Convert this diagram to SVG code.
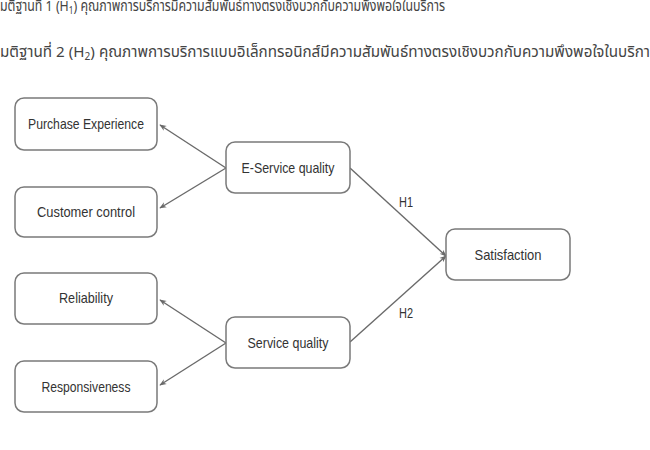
<svg xmlns="http://www.w3.org/2000/svg" width="650" height="450" viewBox="0 0 650 450">
<defs>
<style>
.box{fill:#fff;stroke:#7a7a7a;stroke-width:1.5}
.lbl{font-family:"Liberation Sans Narrow","Liberation Sans",Arial,sans-serif;font-size:15px;fill:#333;text-anchor:middle}
.th{font-family:"Noto Sans Thai","Tahoma","DejaVu Sans","Noto Sans",sans-serif;font-size:15px;fill:#444}
.sub{font-size:10px}
.edge{stroke:#6a6a6a;stroke-width:1.4;fill:none}
</style>
<marker id="ah" viewBox="0 0 10 10" refX="9" refY="5" markerWidth="7" markerHeight="7" orient="auto" markerUnits="userSpaceOnUse">
<path d="M0,1 L10,5 L0,9 L3,5 Z" fill="#6a6a6a"/>
</marker>
</defs>
<rect width="650" height="450" fill="#fff"/>
<text class="th" x="0" y="11" textLength="445" lengthAdjust="spacingAndGlyphs">มติฐานที่ 1 (H<tspan class="sub" baseline-shift="-3">1</tspan>) คุณภาพการบริการมีความสัมพันธ์ทางตรงเชิงบวกกับความพึงพอใจในบริการ</text>
<text class="th" x="0" y="57" textLength="650" lengthAdjust="spacingAndGlyphs">มติฐานที่ 2 (H<tspan class="sub" baseline-shift="-3">2</tspan>) คุณภาพการบริการแบบอิเล็กทรอนิกส์มีความสัมพันธ์ทางตรงเชิงบวกกับความพึงพอใจในบริกา</text>
<g id="connectors">
<line class="edge" x1="226" y1="168" x2="160" y2="125" marker-end="url(#ah)"/>
<line class="edge" x1="226" y1="168" x2="160" y2="208" marker-end="url(#ah)"/>
<line class="edge" x1="226" y1="343" x2="160" y2="300" marker-end="url(#ah)"/>
<line class="edge" x1="226" y1="343" x2="160" y2="385" marker-end="url(#ah)"/>
<line class="edge" x1="350" y1="168" x2="446" y2="256" marker-end="url(#ah)"/>
<line class="edge" x1="350" y1="342" x2="446" y2="256" marker-end="url(#ah)"/>
<text class="lbl" x="406" y="207" textLength="14" lengthAdjust="spacingAndGlyphs">H1</text>
<text class="lbl" x="406" y="318" textLength="14" lengthAdjust="spacingAndGlyphs">H2</text>
</g>
<g id="purchase">
<rect class="box" x="15" y="98" width="142" height="52" rx="9"/>
<text class="lbl" x="86" y="129" textLength="116" lengthAdjust="spacingAndGlyphs">Purchase Experience</text>
</g>
<g id="customer">
<rect class="box" x="15" y="187" width="142" height="50" rx="9"/>
<text class="lbl" x="86" y="217" textLength="98" lengthAdjust="spacingAndGlyphs">Customer control</text>
</g>
<g id="eservice">
<rect class="box" x="226" y="142" width="124" height="51" rx="9"/>
<text class="lbl" x="288" y="173" textLength="93" lengthAdjust="spacingAndGlyphs">E-Service quality</text>
</g>
<g id="reliability">
<rect class="box" x="15" y="273" width="142" height="51" rx="9"/>
<text class="lbl" x="86" y="303" textLength="54" lengthAdjust="spacingAndGlyphs">Reliability</text>
</g>
<g id="responsiveness">
<rect class="box" x="15" y="361" width="142" height="51" rx="9"/>
<text class="lbl" x="86" y="392" textLength="89" lengthAdjust="spacingAndGlyphs">Responsiveness</text>
</g>
<g id="service">
<rect class="box" x="226" y="317" width="124" height="51" rx="9"/>
<text class="lbl" x="288" y="348" textLength="81" lengthAdjust="spacingAndGlyphs">Service quality</text>
</g>
<g id="satisfaction">
<rect class="box" x="446" y="229" width="124" height="51" rx="9"/>
<text class="lbl" x="508" y="260" textLength="67" lengthAdjust="spacingAndGlyphs">Satisfaction</text>
</g>
</svg>
